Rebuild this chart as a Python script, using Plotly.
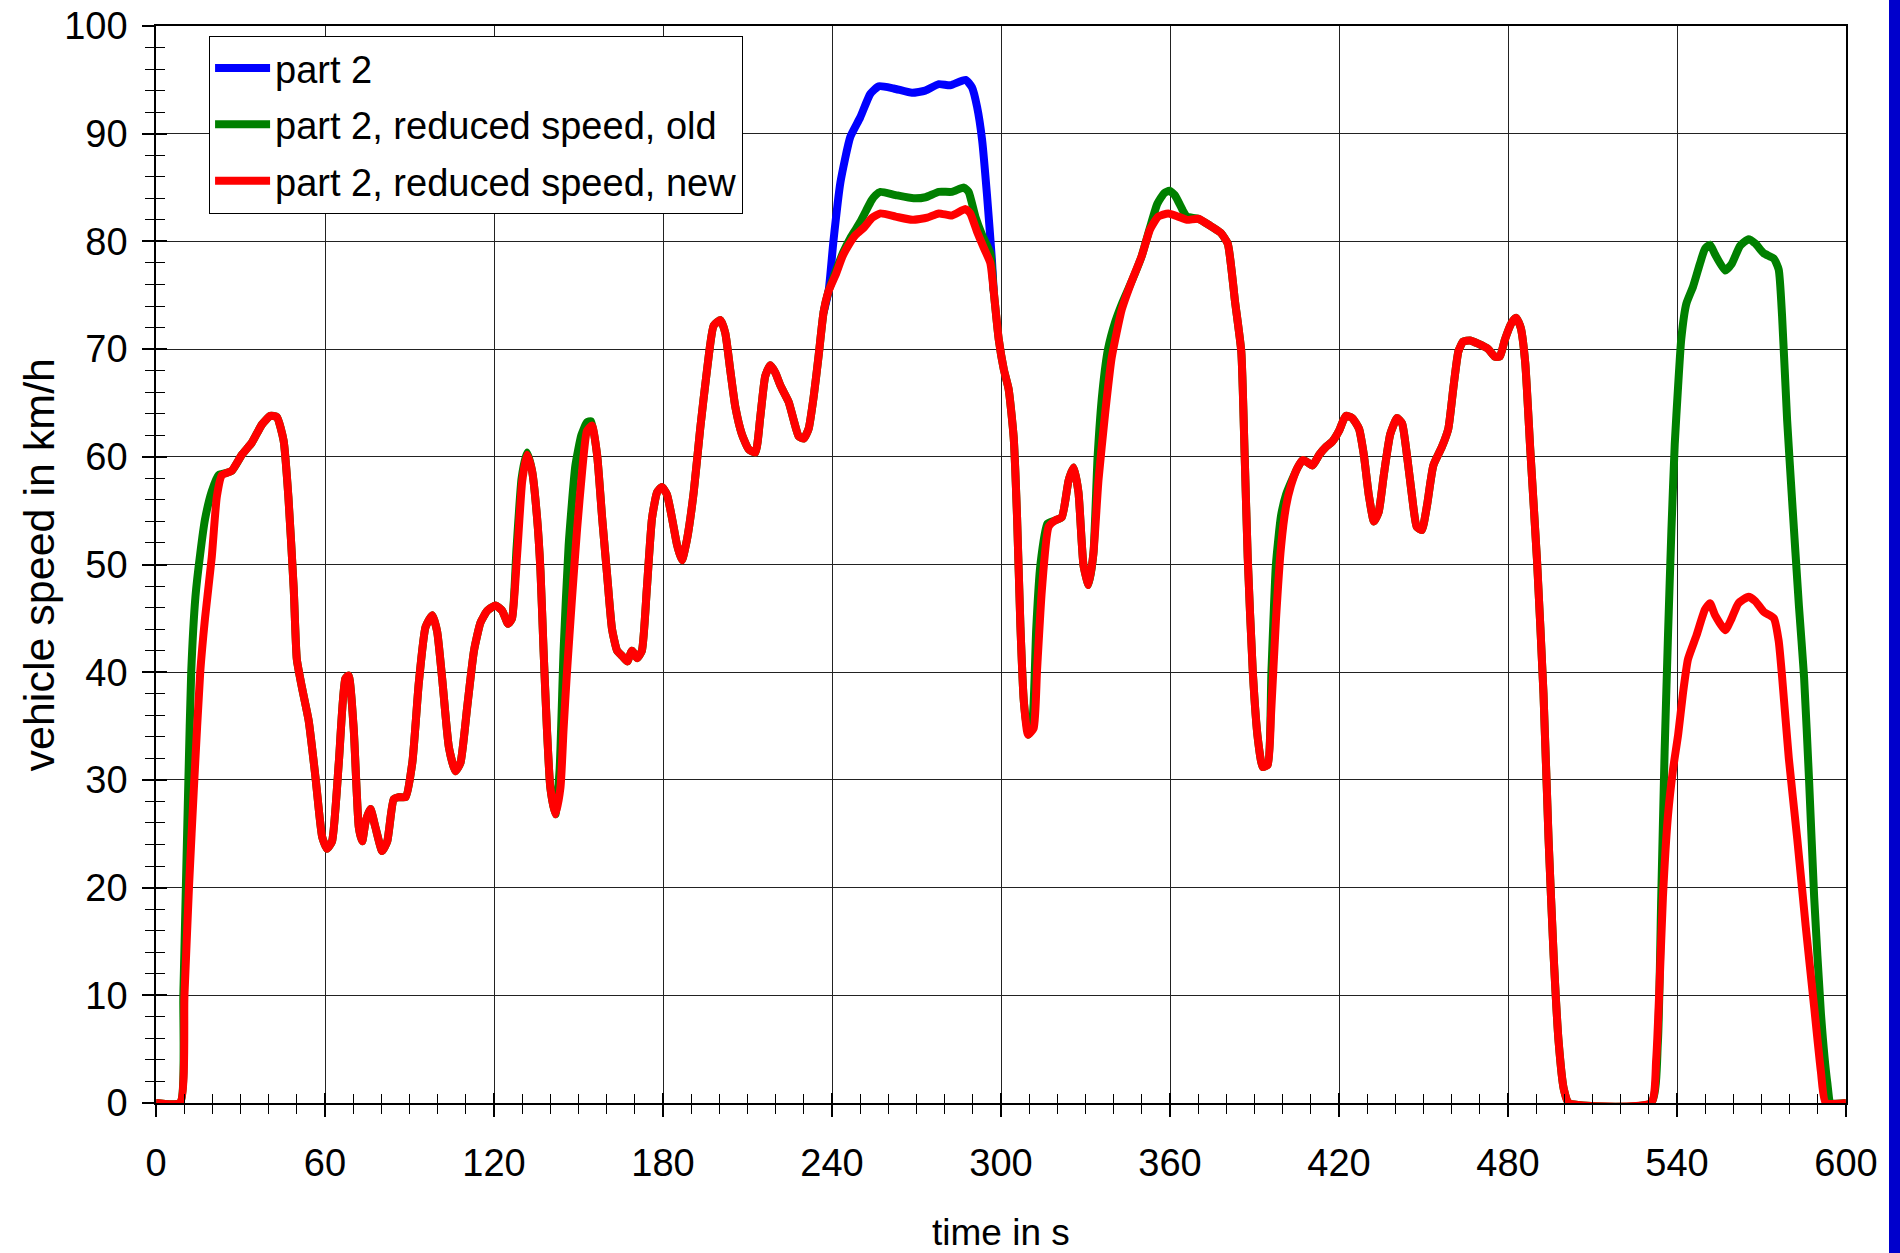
import plotly.graph_objects as go

# ---------------- data ----------------
# part 2, reduced speed, new (red)
red_t = [0, 8.5, 10.1, 11.7, 13.6, 15.7, 17.4, 19.8, 21.6, 23.4, 26.9, 30.5, 34, 37.6, 40.6, 42.9, 45.3, 47, 48.9, 50, 51.8,
         54.2, 56.6, 59, 60.7, 62.5, 64.9, 67.2, 68.4, 70.2, 72, 73.2, 74.4, 76.1, 77.9, 80.3, 82.1, 84.4, 86.2,
         88.6, 91, 93.3, 95.7, 98.1, 99.8, 101.6, 104, 106.3, 108.1, 110.5, 112.9, 115.2, 117.6, 120.5, 122.9,
         125, 126.4, 128.2, 130, 131.7, 133.5, 135.3, 136.5, 137.6, 138.8, 140, 141.8, 143.6, 144.7, 145.9,
         147.7, 149.5, 151.3, 153, 154.8, 156.6, 158.4, 160.2, 161.9, 163.7, 165.5, 167.3, 169, 170.8, 172.5,
         174.3, 176.1, 177.9, 179.6, 181.4, 183.2, 185, 186.7, 188.5, 190.9, 193.2, 195.6, 198, 200.4, 202.1,
         203.9, 205.7, 208, 210.4, 212.8, 214.5, 216.3, 218.1, 219.9, 221.7, 224.6, 226.4, 228.2, 230, 231.7,
         233.5, 235.3, 237, 238.8, 241.3, 243.7, 246, 248.4, 251.4, 254.3, 257.2, 262.6, 268.5, 273.8, 277.9,
         282.6, 287.4, 289.1, 291.5, 293.9, 296.2, 297.4, 299.2, 301, 302.7, 304.5, 305.7, 306.9, 308.1, 309.6,
         311.6, 312.8, 314.5, 316.9, 319.3, 321.6, 324, 325.8, 327.5, 329.3, 331.1, 332.8, 334.6, 337, 339.3,
         342.9, 346.4, 349.9, 352.9, 355.8, 359.4, 362.9, 366, 370, 374, 378, 380.5, 382, 383, 385.3, 386.5,
         387.6, 389.4, 391.2, 392.9, 394.7, 395.9, 397.6, 399.4, 401.2, 402.9, 405.3, 407.1, 408.8, 410.6, 413,
         415.3, 417.6, 420, 422.4, 424.7, 427.1, 428.8, 430.6, 432.4, 434.1, 435.9, 438.2, 440.6, 442.4, 444.1,
         445.9, 447.6, 449.4, 451.2, 453.5, 456.5, 458.8, 460.6, 462.4, 464.1, 466.5, 469.4, 473, 475.3, 477.1,
         478.8, 481.2, 482.9, 484.5, 486.1, 487.9, 490.3, 492.6, 494.4, 496.2, 498, 499.8, 501.6, 530.8, 532.6,
         533.8, 535, 536.8, 538.6, 540.4, 542.1, 543.9, 546.9, 549.9, 551.7, 553.5, 557.1, 559.4, 561.8, 565.4,
         567.8, 570.8, 574.4, 576.1, 577.3, 579.7, 582.7, 585.7, 588.7, 591.1, 592.8, 600]
red_v = [0, 0, 10, 20, 30, 40, 45, 50.7, 56.3, 58.3, 58.7, 60.2, 61.3, 63, 63.8, 63.7, 61.5, 56.3, 47.7, 41.2, 38.6,
         35.5, 30.3, 24.7, 23.6, 24.3, 31.6, 39.4, 39.7, 34.7, 25.6, 24.3, 26.1, 27.3, 25.6, 23.4, 24.3, 28.2, 28.4,
         28.4, 31.6, 39, 44.2, 45.3, 43.8, 39.4, 33, 30.8, 31.6, 36.8, 42, 44.6, 45.7, 46.2, 45.7,
         44.5, 45, 50.9, 57.7, 60.2, 58.7, 54.3, 49.4, 42, 34.7, 29.3, 26.8, 29.3, 34.7, 40,
         46.9, 53.3, 58.7, 62.4, 62.9, 60.2, 54.3, 48.9, 44, 42, 41.5, 41, 42, 41.3, 42,
         47.9, 54.3, 56.7, 57.2, 56.5, 54.3, 51.8, 50.4, 52.3, 56.7, 62.6, 68, 72.2, 72.7, 71.5,
         68, 64.6, 62.1, 60.7, 60.4, 63.6, 67.5, 68.5, 67.8, 66.6, 65.1, 63.4, 61.9, 61.7, 62.6,
         65.6, 69.5, 73.4, 75.4, 76.9, 78.6, 79.7, 80.6, 81.3, 82.2, 82.6, 82.3, 82, 82.2, 82.6,
         82.4, 83, 82.6, 80.9, 79.4, 78, 75.4, 70.9, 68.1, 66.3, 61.8, 54.4, 44.2, 37.3, 34.2,
         34.8, 40.2, 47.6, 53.5, 54.1, 54.4, 57.8, 59, 56.7, 49.9, 48.1, 51, 57.8, 64.1, 69.2,
         73.7, 76.3, 78.6, 81.1, 82.3, 82.6, 82.3, 82, 82.1, 81.5, 80.8, 79.8, 77, 74.6, 69.8, 60.2,
         50.6, 40, 33.8, 31.2, 31.4, 36.2, 44.8, 51.6, 55.4, 57.3, 59, 59.7, 59.5, 59.2, 60.2,
         60.9, 61.4, 62.4, 63.8, 63.6, 62.6, 60.2, 56.4, 54, 54.9, 58.3, 62.1, 63.6, 63.1, 60.2,
         56.4, 53.5, 53.2, 55.4, 59.2, 60.9, 62.6, 66.4, 69.8, 70.7, 70.8, 70.5, 70, 69.3, 69.3,
         70.8, 72.4, 72.9, 72, 68.8, 60.7, 50.4, 38, 24.5, 13.7, 5.6, 1.3, 0, 0, 4,
         11, 19.1, 26.7, 31, 34.2, 38, 41.2, 43.4, 45.8, 46.4, 45.3, 43.9, 45, 46.4, 47,
         46.6, 45.6, 45, 42.9, 39.6, 32, 24.5, 16.4, 8.9, 2.9, 0, 0]

# part 2, reduced speed, old (green)
green_t = [0, 8.5, 9.7, 10.6, 11.5, 12.5, 14, 15.7, 17.4, 19.8, 22.2, 23.4, 26.9, 30.5, 34, 37.6, 40.6, 42.9, 45.3,
           47, 48.9, 50, 51.8, 54.2, 56.6, 59, 60.7, 62.5, 64.9, 67.2, 68.4, 70.2, 72, 73.2, 74.4, 76.1, 77.9,
           80.3, 82.1, 84.4, 86.2, 88.6, 91, 93.3, 95.7, 98.1, 99.8, 101.6, 104, 106.3, 108.1, 110.5, 112.9,
           115.2, 117.6, 120.5, 122.9, 125, 126.4, 128, 129.8, 131.7, 133.5, 135.3, 136.5, 137.6, 138.8, 140,
           141.8, 143.3, 144.7, 146.5, 148.9, 151, 153, 154.5, 156.6, 158.4, 160.2, 161.9, 163.7, 165.5, 167.3,
           169, 170.8, 172.5, 174.3, 176.1, 177.9, 179.6, 181.4, 183.2, 185, 186.7, 188.5, 190.9, 193.2, 195.6,
           198, 200.4, 202.1, 203.9, 205.7, 208, 210.4, 212.8, 214.5, 216.3, 218.1, 219.9, 221.7, 224.6, 226.4,
           228.2, 230, 231.7, 233.5, 235.3, 237, 238.8, 241.3, 244, 246.5, 248.4, 250, 252, 254, 255.5, 257.2,
           262.6, 269, 273.2, 277.9, 282.6, 286.8, 288.5, 290.9, 293.3, 296.2, 297.4, 299.2, 301, 302.7, 304.5,
           305.7, 306.9, 308.1, 309.6, 311.3, 312.5, 314, 316.5, 319.3, 321.6, 324, 325.8, 327.5, 329.3, 331.1,
           332.8, 334.3, 336, 338, 340.5, 342.9, 346.4, 349.9, 352.9, 355.5, 358, 359.8, 361.7, 364.7, 366,
           370, 374, 378, 380.5, 382, 383, 385.3, 386.5, 387.6, 389.4, 391.2, 392.9, 394.7, 396, 397.6, 399.4,
           401.2, 402.9, 405.3, 407.1, 408.8, 410.6, 413, 415.3, 417.6, 420, 422.4, 424.7, 427.1, 428.8, 430.6,
           432.4, 434.1, 435.9, 438.2, 440.6, 442.4, 444.1, 445.9, 447.6, 449.4, 451.2, 453.5, 456.5, 458.8,
           460.6, 462.4, 464.1, 466.5, 469.4, 473, 475.3, 477.1, 478.8, 481.2, 482.9, 484.5, 486.1, 487.9, 490.3,
           492.6, 494.4, 496.2, 498, 499.8, 501.6, 530.8, 533.2, 534.4, 535.6, 536.8, 538, 539.2, 540.4, 541.5,
           543.3, 545.7, 548.1, 549.9, 551.7, 553.5, 557.1, 559.4, 562.4, 565.4, 567.8, 570.8, 574.4, 576.1,
           577.3, 579.1, 580.9, 583.3, 585.1, 586.9, 588.7, 591.1, 593.4, 594.6, 600]
green_v = [0, 0, 10, 20, 30, 40, 47, 51, 54.2, 56.8, 58.3, 58.4, 58.7, 60.2, 61.3, 63, 63.8, 63.7, 61.5,
           56.3, 47.7, 41.2, 38.6, 35.5, 30.3, 24.7, 23.6, 24.3, 31.6, 39.4, 39.7, 34.7, 25.6, 24.3, 26.1, 27.3, 25.6,
           23.4, 24.3, 28.2, 28.4, 28.4, 31.6, 39, 44.2, 45.3, 43.8, 39.4, 33, 30.8, 31.6, 36.8, 42,
           44.6, 45.7, 46.2, 45.7, 44.5, 45, 51.5, 58, 60.4, 58.7, 54.3, 49.4, 42, 34.7, 29.3,
           26.8, 31, 42, 51.8, 59.2, 62, 63.2, 63.3, 60.2, 54.3, 48.9, 44, 42, 41.5, 41,
           42, 41.3, 42, 47.9, 54.3, 56.7, 57.2, 56.5, 54.3, 51.8, 50.4, 52.3, 56.7, 62.6, 68,
           72.2, 72.7, 71.5, 68, 64.6, 62.1, 60.7, 60.4, 63.6, 67.5, 68.5, 67.8, 66.6, 65.1, 63.4,
           61.9, 61.7, 62.6, 65.6, 69.5, 73.4, 75.4, 77.2, 79, 80.3, 81.1, 81.8, 82.8, 83.8, 84.3, 84.6,
           84.3, 84, 84.1, 84.6, 84.6, 85, 84.6, 82.3, 80.6, 78.9, 75.4, 70.9, 68.1, 66.3, 61.8,
           54.4, 44.2, 37.3, 34.2, 36, 44, 50, 53.8, 54.1, 54.4, 57.8, 59, 56.7, 49.9, 48.1,
           51, 60, 66, 70, 72.5, 74.2, 76.3, 78.6, 81.3, 83.5, 84.5, 84.7, 84.3, 82.8, 82.3,
           82.1, 81.5, 80.8, 79.8, 77, 74.6, 69.8, 60.2, 50.6, 40, 33.8, 31.2, 31.4, 40, 50, 54.5,
           56.5, 57.6, 59, 59.7, 59.5, 59.2, 60.2, 60.9, 61.4, 62.4, 63.8, 63.6, 62.6, 60.2, 56.4,
           54, 54.9, 58.3, 62.1, 63.6, 63.1, 60.2, 56.4, 53.5, 53.2, 55.4, 59.2, 60.9, 62.6,
           66.4, 69.8, 70.7, 70.8, 70.5, 70, 69.3, 69.3, 70.8, 72.4, 72.9, 72, 68.8, 60.7, 50.4,
           38, 24.5, 13.7, 5.6, 1.3, 0, 0, 5.6, 19.1, 32.6, 43.4, 53.1, 61.2, 66.6, 70.9,
           74.2, 75.8, 77.9, 79.3, 79.7, 78.8, 77.3, 77.9, 79.6, 80.2, 79.8, 78.9, 78.4, 77.4,
           73.1, 63.4, 55.8, 46.1, 39.6, 29.9, 19.1, 8.3, 1.8, 0, 0]

# part 2 (blue) -- only the section where it leaves the reduced-speed traces
blue_t = [237, 238.8, 240.5, 243, 246.5, 250, 253.6, 256.6, 261.9, 268.4, 273.1, 277.9, 282, 287.4, 289.7,
          291.5, 293.3, 295, 296.8, 297.4]
blue_v = [73.4, 75.4, 80, 85.5, 89.7, 91.5, 93.7, 94.4, 94.2, 93.8, 94, 94.6, 94.5, 95, 94.3,
          92.5, 89.4, 84.4, 78.2, 75.4]

x_ticks = [0, 60, 120, 180, 240, 300, 360, 420, 480, 540, 600]
y_ticks = [0, 10, 20, 30, 40, 50, 60, 70, 80, 90, 100]

series_names = ["part 2", "part 2, reduced speed, old", "part 2, reduced speed, new"]
series_colors = ["#0000FF", "#008000", "#FF0000"]
x_title = "time in s"
y_title = "vehicle speed in km/h"

FONT = "Liberation Sans, Arial, sans-serif"

fig = go.Figure()
for name, col, tt, vv, grp in [
    (series_names[0], series_colors[0], blue_t, blue_v, "a"),
    (series_names[1], series_colors[1], green_t, green_v, "b"),
    (series_names[2], series_colors[2], red_t, red_v, "c"),
]:
    fig.add_trace(go.Scatter(x=tt, y=vv, mode="lines", name=name, legendgroup=grp,
                             line=dict(color=col, width=8, shape="spline", smoothing=0.5)))

# dummy trace for the overlay axes that carry the inner half of the crossing ticks
fig.add_trace(go.Scatter(x=[None], y=[None], xaxis="x2", yaxis="y2", showlegend=False, hoverinfo="skip"))

tickfont = dict(family=FONT, size=38, color="black")

fig.update_layout(
    width=1900, height=1253,
    margin=dict(l=156, r=54, t=26, b=150, autoexpand=False),
    paper_bgcolor="white", plot_bgcolor="white",
    font=dict(family=FONT, color="black"),
    showlegend=True,
    legend=dict(x=0.0314, y=0.991, xanchor="left", yanchor="top",
                bgcolor="white", bordercolor="black", borderwidth=1,
                font=dict(family=FONT, size=38, color="black"),
                tracegroupgap=4, itemwidth=55),
    xaxis=dict(range=[0, 600], tickvals=x_ticks, ticktext=[str(v) for v in x_ticks],
               showgrid=True, gridcolor="#222222", gridwidth=1, automargin=False,
               showline=True, linecolor="black", linewidth=1.5, mirror=True,
               ticks="outside", ticklen=12, tickwidth=1.5, tickcolor="black",
               minor=dict(dtick=10, ticks="outside", ticklen=9, tickwidth=1, tickcolor="black", showgrid=False),
               tickfont=tickfont, ticklabelstandoff=14, zeroline=False),
    yaxis=dict(range=[0, 100], tickvals=y_ticks, ticktext=[str(v) for v in y_ticks],
               showgrid=True, gridcolor="#222222", gridwidth=1, automargin=False,
               showline=True, linecolor="black", linewidth=1.5, mirror=True,
               ticks="outside", ticklen=12, tickwidth=1.5, tickcolor="black",
               minor=dict(dtick=2, ticks="outside", ticklen=9, tickwidth=1, tickcolor="black", showgrid=False),
               tickfont=tickfont, ticklabelstandoff=7, zeroline=False),
    xaxis2=dict(overlaying="x", anchor="y", side="bottom", range=[0, 600], tickvals=x_ticks,
                showticklabels=False, showgrid=False, showline=False, zeroline=False, automargin=False,
                ticks="inside", ticklen=10, tickwidth=1.5, tickcolor="black",
                minor=dict(dtick=10, ticks="inside", ticklen=9, tickwidth=1, tickcolor="black", showgrid=False)),
    yaxis2=dict(overlaying="y", anchor="x", side="left", range=[0, 100], tickvals=y_ticks,
                showticklabels=False, showgrid=False, showline=False, zeroline=False, automargin=False,
                ticks="inside", ticklen=11, tickwidth=1.5, tickcolor="black",
                minor=dict(dtick=2, ticks="inside", ticklen=9, tickwidth=1, tickcolor="black", showgrid=False)),
    annotations=[
        dict(text=x_title, xref="paper", yref="paper", x=0.5, y=-(1232 - 1103) / 1077,
             xanchor="center", yanchor="middle", showarrow=False,
             font=dict(family=FONT, size=37, color="black")),
        dict(text=y_title, xref="paper", yref="paper", x=(38 - 156) / 1690, y=0.5,
             xanchor="center", yanchor="middle", showarrow=False, textangle=-90,
             font=dict(family=FONT, size=43, color="black")),
    ],
    shapes=[dict(type="rect", xref="paper", yref="paper",
                 x0=(1889 - 156) / 1690, x1=(1905 - 156) / 1690,
                 y0=-160 / 1077, y1=1 + 30 / 1077,
                 fillcolor="#0000CC", line=dict(width=0), layer="above")],
)

fig.write_html("out.html", config={"displayModeBar": False},
               post_script="document.body.style.margin='0';document.body.style.overflow='hidden';")
